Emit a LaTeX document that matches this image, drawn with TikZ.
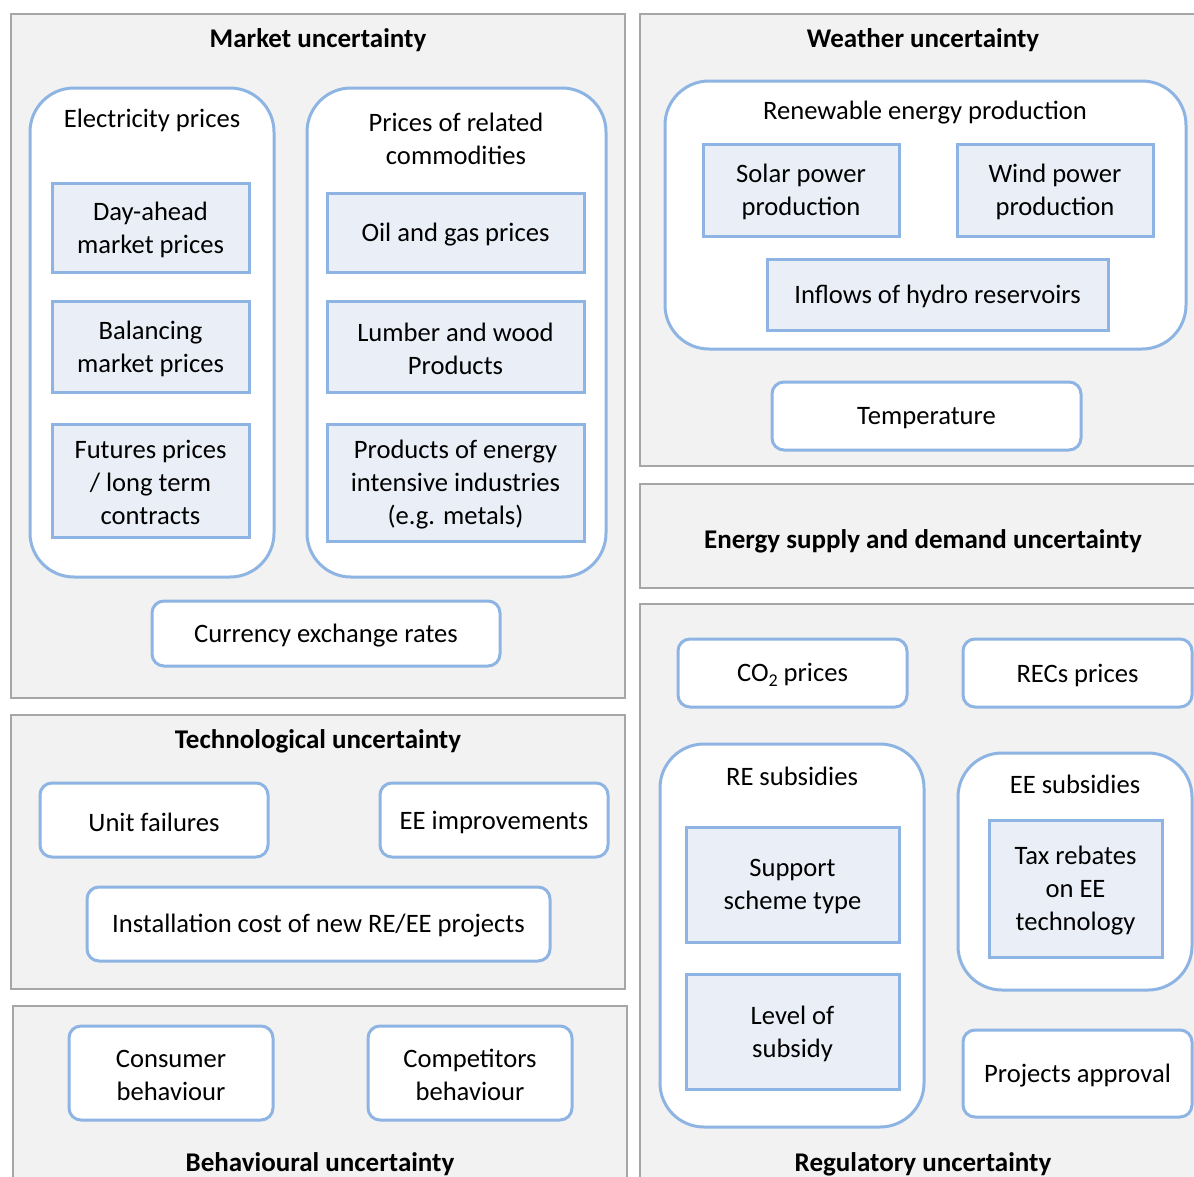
\documentclass[tikz,border=0pt]{standalone}
\usepackage{fontspec}
\setmainfont{Carlito}
\definecolor{panelfill}{HTML}{F2F2F2}
\definecolor{panelline}{HTML}{A6A6A6}
\definecolor{blueline}{HTML}{8EB4E3}
\definecolor{itemfill}{HTML}{EAEFF7}
\tikzset{
  panel/.style={fill=panelfill, draw=panelline, line width=2pt},
  group/.style={fill=white, draw=blueline, line width=3pt, rounded corners=44pt},
  item/.style={fill=itemfill, draw=blueline, line width=3pt},
  pill/.style={fill=white, draw=blueline, line width=3pt, rounded corners=12pt},
  heading/.style={font=\bfseries\fontsize{27}{33}\selectfont, inner sep=0pt, yshift=-2pt},
  label/.style={align=center, inner sep=0pt, yshift=-2pt},
}
% box from (x1,y1) to (x2,y2), y measured downwards, with its text centred inside
\newcommand\bx[7]{\node[#1, inner sep=0pt, outer sep=0pt,
  minimum width={(#5)-(#3)}, minimum height={(#6)-(#4)}]
  (#2) at ({((#3)+(#5))/2},{((#4)+(#6))/2}) {};
  \node[label] (#2-text) at (#2.center) {#7};}
\begin{document}
\begin{tikzpicture}[x=1pt, y=-1pt, font=\fontsize{26.6}{33}\selectfont]
\useasboundingbox (0,0) rectangle (1194,1176);
\clip (0,0) rectangle (1194,1176);

% ---------- panels ----------
\bx{panel}{market}{11}{14}{625}{698}{}
\bx{panel}{weather}{640}{14}{1200}{466}{}
\bx{panel}{supply}{640}{484}{1200}{588}{}
\bx{panel}{regul}{640}{604}{1200}{1190}{}
\bx{panel}{techn}{11}{715}{625}{989}{}
\bx{panel}{behav}{13}{1006}{627}{1190}{}

% ---------- market uncertainty ----------
\node[heading] (tmarket) at (318,38) {Market uncertainty};
\bx{group}{elec}{30}{88}{274}{577}{}
\node[label] (telec) at (152,118) {Electricity prices};
\bx{item}{dayahead}{52}{183}{249}{272}{Day-ahead\\market prices}
\bx{item}{balancing}{52}{301}{249}{392}{Balancing\\market prices}
\bx{item}{futures}{52}{424}{249}{537}{Futures prices\\/ long term\\contracts}
\bx{group}{related}{307}{88}{606}{577}{}
\node[label] (trelated) at (456,137) {Prices of related\\commodities};
\bx{item}{oilgas}{327}{193}{584}{272}{Oil and gas prices}
\bx{item}{lumber}{327}{301}{584}{392}{Lumber and wood\\Products}
\bx{item}{energyind}{327}{424}{584}{541}{Products of energy\\intensive industries\\(e.g. metals)}
\bx{pill}{currency}{152}{601}{500}{666}{Currency exchange rates}

% ---------- weather uncertainty ----------
\node[heading] (tweather) at (923,38) {Weather uncertainty};
\bx{group}{renew}{665}{81}{1186}{349}{}
\node[label] (trenew) at (925,111) {Renewable energy production};
\bx{item}{solar}{703}{144}{899}{236}{Solar power\\production}
\bx{item}{wind}{957}{144}{1153}{236}{Wind power\\production}
\bx{item}{hydro}{767}{259}{1108}{330}{Inflows of hydro reservoirs}
\bx{pill}{temp}{772}{382}{1081}{450}{Temperature}

% ---------- energy supply and demand ----------
\node[heading] (tsupply) at (923,539) {Energy supply and demand uncertainty};

% ---------- regulatory uncertainty ----------
\bx{pill}{co2}{678}{639}{907}{707}{CO\raisebox{-0.35ex}{\fontsize{18}{18}\selectfont 2} prices}
\bx{pill}{recs}{963}{639}{1192}{707}{RECs prices}
\bx{group}{resub}{660}{744}{924}{1127}{}
\node[label] (tresub) at (792,774) {RE subsidies};
\bx{item}{support}{686}{827}{899}{942}{Support\\scheme type}
\bx{item}{level}{686}{974}{899}{1089}{Level of\\subsidy}
\bx{group}{eesub}{958}{753}{1192}{990}{}
\node[label] (teesub) at (1075,782) {EE subsidies};
\bx{item}{tax}{989}{820}{1162}{957}{Tax rebates\\on EE\\technology}
\bx{pill}{approval}{963}{1030}{1192}{1117}{Projects approval}
\node[heading] (tregul) at (923,1162) {Regulatory uncertainty};

% ---------- technological uncertainty ----------
\node[heading] (ttechn) at (318,739) {Technological uncertainty};
\bx{pill}{failures}{40}{783}{268}{857}{Unit failures}
\bx{pill}{eeimpr}{380}{783}{608}{857}{EE improvements}
\bx{pill}{install}{87}{887}{550}{961}{Installation cost of new RE/EE projects}

% ---------- behavioural uncertainty ----------
\bx{pill}{consumer}{69}{1026}{273}{1120}{Consumer\\behaviour}
\bx{pill}{competitors}{368}{1026}{572}{1120}{Competitors\\behaviour}
\node[heading] (tbehav) at (320,1162) {Behavioural uncertainty};
\end{tikzpicture}
\end{document}
